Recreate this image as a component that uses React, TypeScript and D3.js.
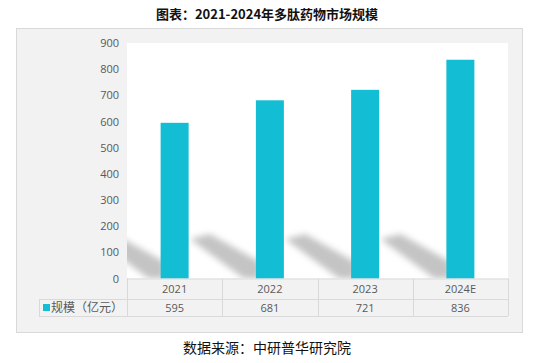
import React from "react";
import * as d3 from "d3";

const categories = ["2021", "2022", "2023", "2024E"];
const values = [595, 681, 721, 836];
const yTicks = [0, 100, 200, 300, 400, 500, 600, 700, 800, 900];
const seriesName = "规模（亿元）";
const title = "图表：2021-2024年多肽药物市场规模";
const source = "数据来源：中研普华研究院";

export default function App() {
  const W = 534, H = 363;
  const plotL = 127, plotR = 508, plotT = 43, plotB = 278.5;
  const row1B = 299, row2B = 316;
  const legendL = 39;
  const x = d3.scaleBand<string>().domain(categories).range([plotL, plotR]).paddingInner(0).paddingOuter(0);
  const y = d3.scaleLinear().domain([0, 900]).range([plotB, plotT]);
  const barW = 28;
  const grid = "#d9d9d9";
  const teal = "#13BDD3";
  const font = "'Open Sans', 'Noto Sans CJK SC', sans-serif";
  return (
    <svg width={W} height={H} style={{ position: "absolute", left: 0, top: 0 }}>
      <defs>
        <filter id="blur" x="-50%" y="-50%" width="200%" height="200%">
          <feGaussianBlur stdDeviation="3" />
        </filter>
        <clipPath id="plotclip">
          <rect x={plotL} y={plotT} width={plotR - plotL} height={plotB - plotT} />
        </clipPath>
      </defs>
      <rect x={0} y={0} width={W} height={H} fill="#fff" />
      <text x={267} y={19} textAnchor="middle" fontSize={13} fontWeight="bold" fill="#111" fontFamily="'Noto Sans CJK SC', sans-serif">{title}</text>
      <rect x={16.5} y={28.5} width={506} height={304} fill="#f2f2f2" stroke={grid} />
      <rect x={plotL} y={plotT} width={plotR - plotL} height={plotB - plotT} fill="#fff" />
      <g clipPath="url(#plotclip)">
        {categories.map((c, i) => {
          const bl = (x(c) as number) + x.bandwidth() / 2 - barW / 2;
          const pts = [
            [bl - 66, 239],
            [bl - 46, 234],
            [bl + 4, 262],
            [bl + 4, plotB],
            [bl - 12, plotB],
          ];
          return <polygon key={"s" + i} points={pts.map(p => p.join(",")).join(" ")} fill="#b0b0b0" opacity={0.75} filter="url(#blur)" />;
        })}
      </g>
      {categories.map((c, i) => {
        const cx = (x(c) as number) + x.bandwidth() / 2;
        return <rect key={"b" + i} x={cx - barW / 2} y={y(values[i])} width={barW} height={plotB - y(values[i])} fill={teal} />;
      })}
      {yTicks.map(t => (
        <text key={"t" + t} x={119} y={y(t) + 4} textAnchor="end" fontSize={11} fill="#595959" fontFamily={font}>{t}</text>
      ))}
      {/* table */}
      <g stroke={grid} strokeWidth={1} fill="none">
        <line x1={plotL} x2={plotR} y1={plotB + 0.5} y2={plotB + 0.5} />
        <line x1={legendL} x2={plotR} y1={row1B + 0.5} y2={row1B + 0.5} />
        <line x1={legendL} x2={plotR} y1={row2B + 0.5} y2={row2B + 0.5} />
        <line x1={legendL + 0.5} x2={legendL + 0.5} y1={row1B} y2={row2B} />
        {categories.map((c, i) => (
          <line key={"v" + i} x1={Math.round(x(c) as number) + 0.5} x2={Math.round(x(c) as number) + 0.5} y1={plotB} y2={row2B} />
        ))}
        <line x1={plotR + 0.5} x2={plotR + 0.5} y1={plotB} y2={row2B} />
      </g>
      {categories.map((c, i) => {
        const cx = (x(c) as number) + x.bandwidth() / 2;
        return (
          <g key={"l" + i} fontSize={11} fill="#595959" fontFamily={font} textAnchor="middle">
            <text x={cx} y={293}>{c}</text>
            <text x={cx} y={312}>{values[i]}</text>
          </g>
        );
      })}
      <rect x={43} y={304} width={7} height={7} fill={teal} />
      <text x={51} y={312} fontSize={12} fill="#595959" fontFamily="'Noto Sans CJK SC', sans-serif">{seriesName}</text>
      <text x={267} y={353} textAnchor="middle" fontSize={14} fill="#111" fontFamily="'Noto Sans CJK SC', sans-serif">{source}</text>
    </svg>
  );
}
